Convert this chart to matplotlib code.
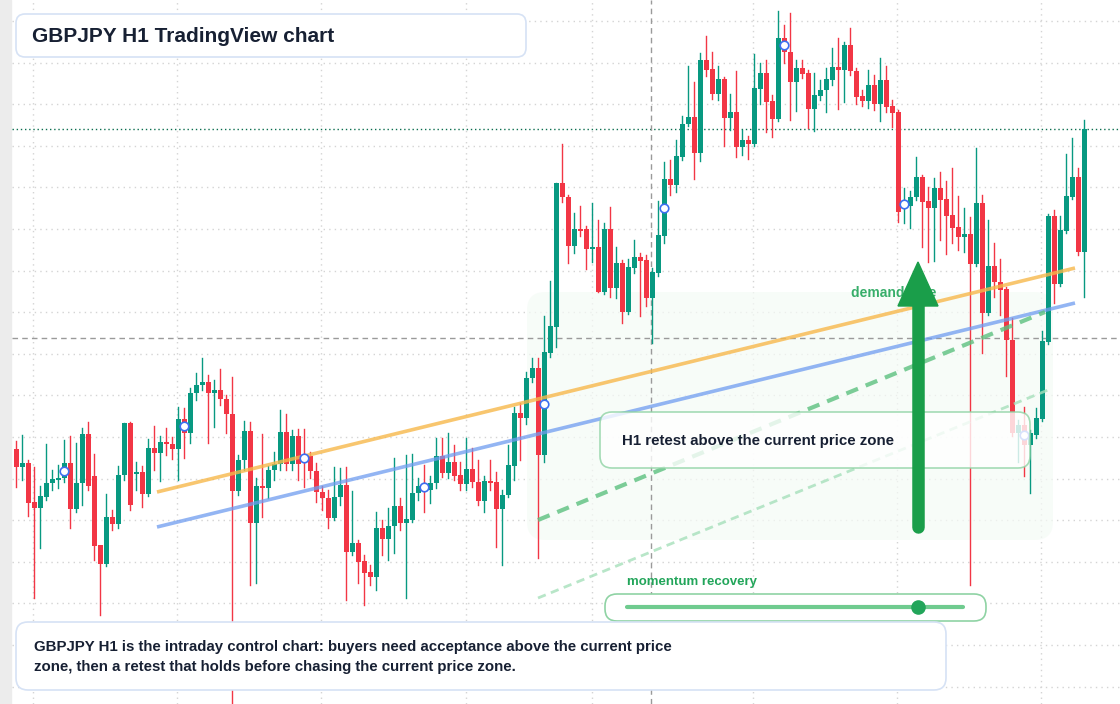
import matplotlib
matplotlib.use("Agg")
import matplotlib.pyplot as plt
from matplotlib.patches import FancyBboxPatch, Rectangle, FancyArrow

plt.rcParams["font.family"] = ["Liberation Sans", "DejaVu Sans"]

# candle levels (screen-style scale, smaller = higher price)
opens = [449, 467, 463, 502, 508, 497, 483, 479, 478, 463, 509, 483, 434, 476, 545, 564, 517, 524, 475, 423,
         474, 472, 494, 448, 453, 442, 444, 449, 419, 433, 393, 385, 382, 393, 390, 399, 414, 491, 460, 431,
         523, 486, 488, 470, 464, 432, 464, 436, 456, 456, 471, 492, 498, 518, 497, 485, 552, 543, 561, 572,
         577, 528, 539, 526, 506, 523, 520, 493, 486, 490, 483, 456, 473, 462, 475, 484, 469, 482, 501, 481,
         482, 509, 495, 466, 413, 418, 378, 368, 455, 353, 327, 183, 197, 246, 229, 229, 248, 247, 292, 229,
         288, 263, 312, 268, 257, 260, 298, 273, 236, 179, 185, 157, 124, 117, 153, 60, 69, 94, 79, 118,
         112, 147, 140, 144, 89, 73, 101, 119, 38, 52, 82, 68, 73, 109, 96, 90, 80, 67, 70, 45,
         71, 96, 101, 85, 104, 80, 106, 112, 207, 206, 197, 177, 201, 208, 188, 199, 215, 227, 237, 234,
         264, 203, 313, 266, 282, 289, 340, 433, 425, 445, 435, 419, 342, 216, 284, 231, 197, 177, 252]
closes = [467, 463, 503, 508, 496, 483, 479, 478, 463, 509, 483, 434, 486, 546, 564, 517, 524, 475, 423, 505,
          472, 494, 448, 453, 442, 444, 449, 419, 433, 393, 385, 382, 393, 390, 399, 414, 491, 460, 431, 523,
          486, 488, 470, 464, 432, 464, 436, 464, 460, 471, 492, 498, 518, 497, 485, 552, 543, 562, 573, 577,
          528, 539, 526, 506, 523, 519, 493, 486, 488, 483, 456, 473, 462, 476, 484, 469, 482, 501, 481, 483,
          509, 495, 465, 413, 418, 378, 368, 455, 352, 326, 183, 197, 246, 229, 230, 249, 247, 292, 229, 288,
          263, 312, 267, 257, 261, 298, 272, 235, 179, 185, 156, 124, 117, 153, 60, 70, 94, 79, 118, 112,
          147, 140, 144, 88, 73, 102, 119, 38, 52, 82, 68, 74, 109, 95, 90, 79, 67, 70, 45, 71,
          97, 101, 85, 104, 80, 107, 113, 212, 201, 197, 177, 202, 208, 188, 200, 216, 228, 237, 234, 264,
          203, 313, 266, 282, 290, 340, 433, 425, 445, 433, 418, 341, 216, 284, 230, 196, 177, 252, 129]
highs = [441, 435, 460, 467, 486, 444, 470, 465, 440, 436, 443, 428, 422, 454, 546, 494, 510, 466, 423, 422,
         462, 466, 439, 426, 436, 428, 437, 407, 408, 388, 373, 358, 375, 380, 369, 395, 377, 455, 421, 422,
         478, 434, 466, 452, 410, 414, 430, 429, 429, 452, 463, 486, 490, 467, 468, 467, 491, 540, 555, 565,
         512, 520, 508, 458, 498, 455, 454, 478, 465, 476, 438, 438, 433, 445, 462, 438, 448, 460, 476, 460,
         472, 490, 445, 407, 403, 372, 358, 358, 316, 281, 183, 144, 195, 213, 206, 226, 203, 220, 223, 207,
         247, 260, 259, 240, 253, 255, 268, 201, 162, 160, 140, 116, 66, 82, 53, 36, 52, 66, 77, 94,
         71, 130, 136, 54, 63, 60, 95, 11, 25, 13, 60, 60, 70, 73, 80, 68, 48, 38, 42, 28,
         68, 90, 70, 75, 58, 66, 100, 110, 188, 191, 157, 175, 187, 178, 172, 181, 168, 196, 208, 217,
         148, 195, 220, 243, 259, 287, 318, 420, 407, 430, 408, 331, 214, 210, 216, 154, 138, 168, 120]
lows = [487, 480, 516, 598, 548, 500, 490, 488, 482, 528, 512, 505, 490, 560, 615, 566, 530, 528, 480, 510,
        490, 507, 496, 470, 481, 455, 459, 480, 458, 443, 400, 390, 443, 427, 405, 433, 704, 495, 470, 585,
        583, 517, 498, 480, 470, 470, 470, 480, 487, 478, 502, 510, 528, 520, 505, 600, 555, 583, 605, 585,
        590, 555, 560, 553, 530, 598, 522, 500, 512, 503, 488, 477, 478, 480, 490, 490, 487, 505, 512, 490,
        547, 565, 497, 480, 460, 424, 382, 558, 462, 357, 347, 202, 263, 253, 236, 269, 262, 292, 294, 297,
        298, 323, 314, 273, 316, 306, 343, 276, 243, 195, 192, 160, 126, 179, 161, 76, 99, 100, 146, 130,
        157, 155, 159, 146, 104, 132, 137, 121, 63, 120, 111, 78, 128, 131, 100, 112, 85, 109, 102, 75,
        104, 106, 108, 110, 121, 112, 127, 222, 223, 228, 200, 247, 262, 261, 240, 254, 243, 250, 252, 585,
        266, 353, 315, 297, 315, 376, 436, 462, 476, 493, 438, 421, 344, 303, 286, 233, 199, 255, 297]

# overlay data
bar_x0, bar_step = 16, 6
marker_idx = [8, 28, 48, 68, 88, 108, 128, 148, 168]
orange_line = ([157, 1075], [492, 268])
blue_line = ([157, 1075], [527, 303])
green_dash = ([538, 1045], [520, 312])
faint_dash = ([538, 1048], [598, 390])
last_price = 129
cross_x, cross_y = 651, 338
grid_x = [33, 177, 321, 466, 592, 753, 897, 1041]
grid_y = [21 + 41.6 * k for k in range(17)]

UP, DOWN = "#089981", "#f23645"
GREEN = "#22a55a"
NAVY = "#172033"

fig = plt.figure(figsize=(11.2, 7.04), dpi=100)
ax = fig.add_axes([0, 0, 1, 1])
ax.set_xlim(0, 1120)
ax.set_ylim(704, 0)
ax.axis("off")

ax.add_patch(Rectangle((0, 0), 11, 704, color="#ececec", zorder=0))
for gx in grid_x:
    ax.axvline(gx, color="#d4d4d4", lw=1, ls=(0, (1, 3)), zorder=1)
for gy in grid_y:
    ax.axhline(gy, xmin=12 / 1120, color="#d4d4d4", lw=1, ls=(0, (1, 3)), zorder=1)

# demand zone
ax.add_patch(FancyBboxPatch((527, 292), 526, 248, boxstyle="round,pad=0,rounding_size=18",
                            fc="#f5fbf6", ec="none", alpha=0.7, zorder=1))

ax.axhline(last_price, xmin=12 / 1120, color="#0b6e4f", lw=1, ls=(0, (1, 2)), zorder=2)
ax.axhline(cross_y, xmin=12 / 1120, color="#9a9a9a", lw=1, ls=(0, (4, 3)), zorder=2)
ax.axvline(cross_x, color="#9a9a9a", lw=1, ls=(0, (4, 3)), zorder=2)

for i, (o, h, l, c) in enumerate(zip(opens, highs, lows, closes)):
    x = bar_x0 + bar_step * i
    col = UP if c <= o else DOWN
    ax.plot([x, x], [h, l], color=col, lw=1, zorder=3)
    top, bot = min(o, c), max(o, c)
    ax.add_patch(Rectangle((x - 2.5, top), 5, max(bot - top, 1.5), color=col, lw=0, zorder=3))

ax.plot(*orange_line, color="#f7b84b", lw=2.6, alpha=0.8, zorder=4, solid_capstyle="butt")
ax.plot(*blue_line, color="#6f9cf0", lw=2.6, alpha=0.75, zorder=4, solid_capstyle="butt")
ax.plot(*green_dash, color="#5cc17f", lw=3, alpha=0.8, ls=(0, (3, 2)), zorder=4)
ax.plot(*faint_dash, color="#a6e0bb", lw=2, alpha=0.8, ls=(0, (3, 2)), zorder=4)

mx = [bar_x0 + bar_step * i for i in marker_idx]
my = [(opens[i] + closes[i]) / 2 for i in marker_idx]
ax.scatter(mx, my, s=38, facecolor="white", edgecolor="#3d6ef0", lw=1.2, zorder=5)

# callout over the candles
ax.add_patch(FancyBboxPatch((600, 412), 430, 56, boxstyle="round,pad=0,rounding_size=12",
                            fc="white", ec="#8fd3a4", lw=1.2, alpha=0.8, zorder=6))
ax.text(622, 441, "H1 retest above the current price zone", fontsize=10.8, fontweight="bold",
        color=NAVY, va="center", zorder=7)

ax.text(851, 293, "demand side", fontsize=10, fontweight="bold", color=GREEN, alpha=0.9,
        va="center", zorder=6)
ax.plot([918, 918], [527, 300], color="#1a9e4a", lw=9, solid_capstyle="round", zorder=7)
ax.add_patch(FancyArrow(918, 310, 0, -48, width=0, head_width=40, head_length=44,
                        length_includes_head=True, color="#1a9e4a", zorder=7))

ax.text(627, 582, "momentum recovery", fontsize=9.5, fontweight="bold", color=GREEN, va="center", zorder=7)
ax.add_patch(FancyBboxPatch((605, 594), 381, 27, boxstyle="round,pad=0,rounding_size=12",
                            fc="white", ec="#8fd3a4", lw=1.2, zorder=6))
ax.plot([627, 963], [607, 607], color="#6fcb8f", lw=3, zorder=7, solid_capstyle="round")
ax.scatter([918], [607], s=90, color="#22a55a", zorder=8)

ax.add_patch(FancyBboxPatch((16, 14), 510, 43, boxstyle="round,pad=0,rounding_size=9",
                            fc="white", ec="#d6e2f5", lw=1.2, zorder=8))
ax.text(32, 36, "GBPJPY H1 TradingView chart", fontsize=15, fontweight="bold", color=NAVY,
        va="center", zorder=9)

ax.add_patch(FancyBboxPatch((16, 622), 930, 68, boxstyle="round,pad=0,rounding_size=12",
                            fc="white", ec="#d6e2f5", lw=1.2, zorder=8))
ax.text(34, 657, "GBPJPY H1 is the intraday control chart: buyers need acceptance above the current price\n"
        "zone, then a retest that holds before chasing the current price zone.",
        fontsize=10.8, fontweight="bold", color=NAVY, va="center", linespacing=1.5, zorder=9)

fig.savefig("out.png", dpi=100)
